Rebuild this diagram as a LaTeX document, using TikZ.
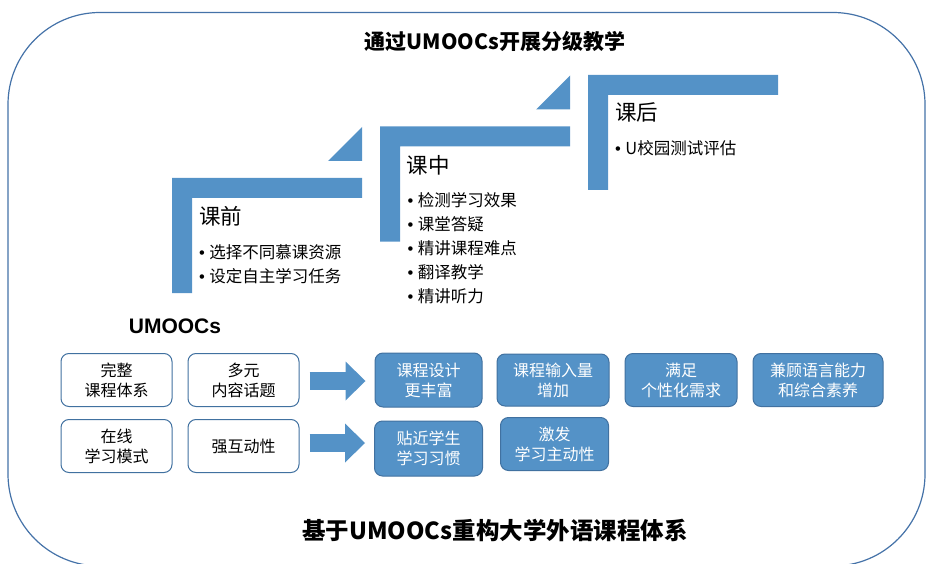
\documentclass[tikz,border=0pt]{standalone}
\usepackage{fontspec}
\setmainfont{Noto Sans CJK SC}
\newfontfamily\latinfont{Liberation Sans}
\usetikzlibrary{positioning,arrows.meta}
\definecolor{stepblue}{RGB}{84,146,199}
\definecolor{boxline}{RGB}{65,113,160}
\definecolor{framecol}{RGB}{68,114,168}
\newcommand\itembullet{{\latinfont\textbullet}\hspace{4.5pt}}
\tikzset{
  wbox/.style={draw=boxline,fill=white,rounded corners=8pt,line width=1pt,
    minimum width=111pt,minimum height=53pt,inner sep=0pt,align=center,
    font=\fontsize{16}{20}\selectfont},
  bbox/.style={wbox,fill=stepblue,text=white},
  stephead/.style={anchor=base west,inner sep=0pt,font=\fontsize{21.5}{24}\selectfont},
  stepitem/.style={anchor=west,inner sep=0pt,font=\fontsize{16.5}{20}\selectfont},
  fatarrow/.style={stepblue,line width=18pt,shorten >=9pt,
    -{Triangle[length=20pt,width=39pt,line width=0pt]}}
}

\begin{document}
\begin{tikzpicture}[x=1pt,y=-1pt,node distance=15pt]
  \useasboundingbox (0,0) rectangle (926,564);
  \draw[framecol,line width=1.2pt,rounded corners=92pt] (8,12.5) rectangle (925,566);

  % stairs
  \foreach \i in {0,1,2}
    \fill[stepblue,shift={(208*\i,-51.5*\i)}]
      (172,178) -- (362,178) -- (362,198) -- (192,198) -- (192,293) -- (172,293) -- cycle;
  \foreach \i in {0,1}
    \fill[stepblue,shift={(208*\i,-51.5*\i)}] (362,127) -- (362,161) -- (328,161) -- cycle;

  \node[font=\fontsize{21}{24}\selectfont\bfseries] (toptitle) at (495,42) {通过UMOOCs开展分级教学};

  % before class
  \node[stephead] (pre) at (199,225) {课前};
  \foreach \t [count=\k] in {选择不同慕课资源,设定自主学习任务}
    \node[stepitem] (pre\k) at (199,229+23.7*\k) {\itembullet\t};

  % in class
  \node[stephead] (mid) at (406.5,173.5) {课中};
  \foreach \t [count=\k] in {检测学习效果,课堂答疑,精讲课程难点,翻译教学,精讲听力}
    \node[stepitem] (mid\k) at (407.5,176+24*\k) {\itembullet\t};

  % after class
  \node[stephead] (post) at (615,120.5) {课后};
  \node[stepitem] (post1) at (615,148.3) {\itembullet U校园测试评估};

  \node[font=\latinfont\bfseries\fontsize{21}{24}\selectfont] (umoocs) at (175,326) {UMOOCs};

  % features
  \node[wbox] (b1) at (116.5,380) {完整\\课程体系};
  \node[wbox,right=of b1] (b2) {多元\\内容话题};
  \node[wbox,below=12pt of b1] (b3) {在线\\学习模式};
  \node[wbox,right=of b3] (b4) {强互动性};

  % results
  \node[bbox,minimum width=107pt,minimum height=54pt] (c1) at (428.5,380) {课程设计\\更丰富};
  \node[bbox,right=14pt of c1,minimum width=112pt,minimum height=52pt] (c2) {课程输入量\\增加};
  \node[bbox,right=of c2,minimum width=112pt] (c3) {满足\\个性化需求};
  \node[bbox,right=of c3,minimum width=130pt] (c4) {兼顾语言能力\\和综合素养};
  \node[bbox,below=13pt of c1,minimum width=108pt,minimum height=55pt] (c5) {贴近学生\\学习习惯};
  \node[bbox,minimum width=108pt] (c6) at (554.5,444) {激发\\学习主动性};

  \coordinate (a1) at ([shift={(10,1)}]b2.east);
  \draw[fatarrow] (a1) -- (a1 -| c1.west);
  \coordinate (a2) at ([shift={(10,-3)}]b4.east);
  \draw[fatarrow] (a2) -- (a2 -| c5.west);

  \node[font=\fontsize{23.5}{26}\selectfont\bfseries] (bottomtitle) at (495,530) {基于UMOOCs重构大学外语课程体系};
\end{tikzpicture}
\end{document}
